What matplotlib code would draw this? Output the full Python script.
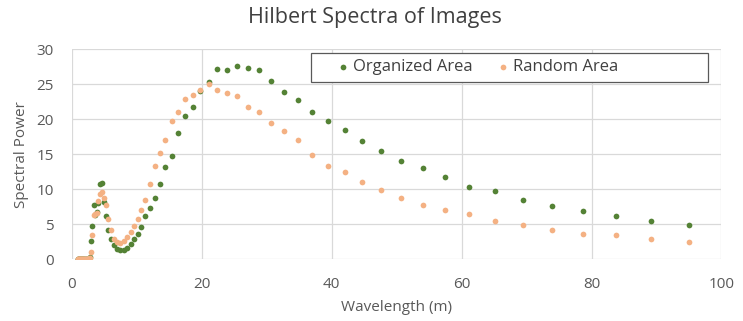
import matplotlib.pyplot as plt
from matplotlib.patches import Rectangle

# wavelength (m), shared by both series
wavelength = [0.9, 1.0, 1.1, 1.2, 1.3, 1.4, 1.5, 1.6, 1.7, 1.8, 1.9, 2.05, 2.2, 2.35, 2.5, 2.65, 2.82,
              3.0, 3.2, 3.41, 3.63, 3.86, 4.11, 4.38, 4.67, 4.97, 5.29, 5.64,
              6.0, 6.5, 7.0, 7.5, 8.0, 8.55, 9.1, 9.65, 10.15, 10.65, 11.25,
              12.0, 12.8, 13.6, 14.4, 15.4, 16.4, 17.4, 18.6, 19.7, 21.1, 22.4, 23.9, 25.4,
              27.1, 28.8, 30.7, 32.6, 34.8, 37.0, 39.4, 42.0, 44.7, 47.6, 50.7, 54.0, 57.4,
              61.2, 65.1, 69.4, 73.9, 78.7, 83.8, 89.2, 95.0]

organized = [0, 0, 0, 0, 0, 0, 0, 0, 0, 0, 0, 0, 0, 0, 0, 0.05, 0.3,
             2.6, 4.8, 7.7, 6.3, 6.7, 8.0, 10.7, 10.9, 8.2, 6.2, 4.1,
             2.8, 2.0, 1.5, 1.3, 1.3, 1.6, 2.2, 2.8, 3.6, 4.6, 6.1,
             7.3, 8.8, 10.8, 13.2, 14.7, 18.0, 20.5, 21.8, 24.0, 25.4, 27.2, 27.1, 27.65,
             27.3, 27.0, 25.5, 23.9, 22.8, 21.1, 19.7, 18.4, 16.95, 15.5, 14.0, 13.1, 11.75,
             10.3, 9.7, 8.45, 7.6, 6.9, 6.1, 5.4, 4.9]

random_area = [0, 0, 0, 0, 0, 0, 0, 0, 0, 0, 0, 0, 0, 0, 0.05, 0.1, 0.2,
               1.0, 3.5, 6.3, 6.4, 6.6, 8.3, 9.3, 9.6, 8.8, 7.7, 5.8,
               4.1, 2.9, 2.5, 2.3, 2.6, 3.2, 3.9, 4.7, 5.7, 7.0, 8.4,
               10.8, 13.3, 15.2, 17.1, 19.7, 21.1, 22.9, 23.5, 24.2, 25.0, 24.2, 23.7, 23.3,
               21.8, 21.0, 19.5, 18.3, 17.1, 14.9, 13.3, 12.4, 11.0, 9.9, 8.8, 7.8, 7.0,
               6.45, 5.44, 4.83, 4.2, 3.58, 3.44, 2.82, 2.39]

plt.rcParams['font.family'] = ['Open Sans', 'DejaVu Sans']
txt = '#595959'

fig = plt.figure(figsize=(7.43, 3.21), dpi=100)
ax = fig.add_axes([0.0965, 0.193, 0.8745, 0.653])

ax.scatter(wavelength, organized, s=17, color='#548235', lw=0, label='Organized Area', zorder=3)
ax.scatter(wavelength, random_area, s=17, color='#f4b183', lw=0, label='Random Area', zorder=4)

ax.set_xlim(0, 100)
ax.set_ylim(0, 30)
ax.set_xticks(range(0, 101, 20))
ax.set_yticks(range(0, 31, 5))
for s in ax.spines.values():
    s.set_visible(False)
ax.grid(True, color='#d9d9d9', lw=0.9)
ax.set_axisbelow(True)
ax.tick_params(length=0, labelsize=11, labelcolor=txt)
ax.tick_params(axis='y', pad=13)
ax.tick_params(axis='x', pad=13)

ax.set_xlabel('Wavelength (m)', fontsize=11, color=txt, labelpad=6)
ax.set_ylabel('Spectral Power', fontsize=11, color=txt, labelpad=5)
fig.text(0.505, 0.947, 'Hilbert Spectra of Images', fontsize=15.5, color='#404040',
         ha='center', va='center')

# legend box drawn like the spreadsheet one
ax.add_patch(Rectangle((0.368, 0.846), 0.611, 0.136, transform=ax.transAxes,
                       fill=True, facecolor='white', edgecolor='#595959', lw=0.9, zorder=5))
leg = ax.legend(loc='center left', bbox_to_anchor=(0.397, 0.916), ncol=2, frameon=False,
                fontsize=12, handlelength=0.8, handletextpad=0.2, columnspacing=1.4,
                borderaxespad=0, scatterpoints=1)
leg.set_zorder(6)
for t in leg.get_texts():
    t.set_color('#404040')

fig.savefig('out.png', dpi=100)
